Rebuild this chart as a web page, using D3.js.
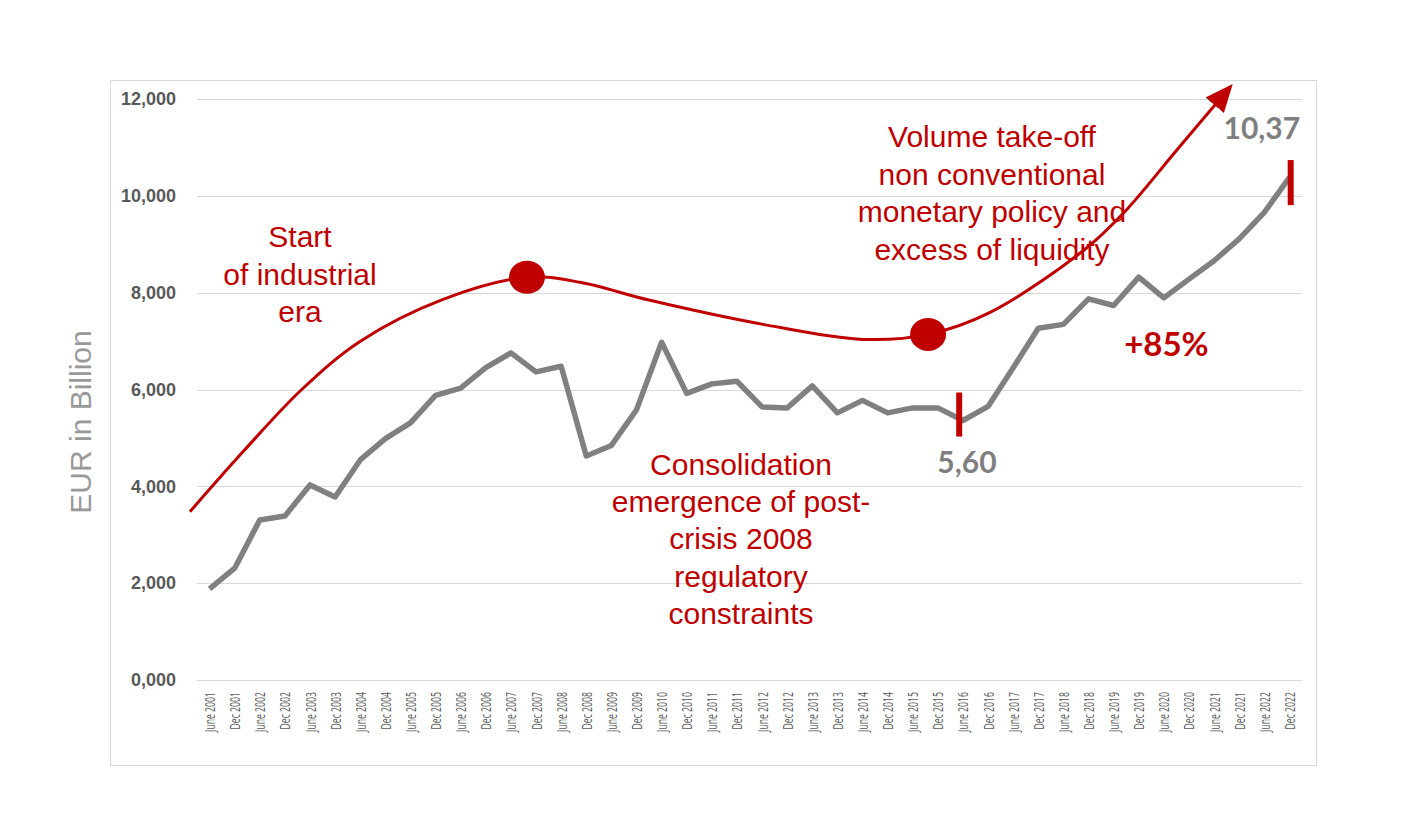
<!DOCTYPE html>
<html>
<head>
<meta charset="utf-8">
<script src="https://cdn.jsdelivr.net/npm/d3@7"></script>
<style>
  html, body { margin: 0; padding: 0; background: #ffffff; }
  svg { display: block; }
</style>
</head>
<body>
<svg id="chart" width="1412" height="838"></svg>
<script>
// ---------------- DATA ----------------
const categories = [
  "June 2001","Dec 2001","June 2002","Dec 2002","June 2003","Dec 2003","June 2004","Dec 2004",
  "June 2005","Dec 2005","June 2006","Dec 2006","June 2007","Dec 2007","June 2008","Dec 2008",
  "June 2009","Dec 2009","June 2010","Dec 2010","June 2011","Dec 2011","June 2012","Dec 2012",
  "June 2013","Dec 2013","June 2014","Dec 2014","June 2015","Dec 2015","June 2016","Dec 2016",
  "June 2017","Dec 2017","June 2018","Dec 2018","June 2019","Dec 2019","June 2020","Dec 2020",
  "June 2021","Dec 2021","June 2022","Dec 2022"
];
const values = [
  1880, 2310, 3306, 3388, 4029, 3781, 4545, 4985,
  5310, 5880, 6030, 6450, 6756, 6364, 6480, 4628,
  4845, 5579, 6975, 5920, 6116, 6170, 5640, 5620,
  6074, 5517, 5775, 5517, 5620, 5620, 5360, 5650,
  6450, 7265, 7345, 7872, 7735, 8320, 7893, 8280,
  8660, 9110, 9660, 10380
];
const yTickValues = [0, 2000, 4000, 6000, 8000, 10000, 12000];
const yTickLabels = ["0,000", "2,000", "4,000", "6,000", "8,000", "10,000", "12,000"];
const yTitle = "EUR in Billion";

// Annotation trend curve (category index, value)
const trendIdx = [-0.78, 1.41, 3.67, 5.99, 9.30, 12.64, 14.75, 17.54, 22.04, 26.02, 28.61, 31.08, 34.86, 36.46, 38.45, 40.64];
const trendVal = [3476, 4759, 6000, 6993, 7862, 8318, 8214, 7842, 7345, 7035, 7138, 7593, 8897, 9683, 10904, 12249];
const dotIdx = [12.64, 28.61];
const dotVal = [8318, 7138];

// Red marker bars (category index, value range)
const barIdx = [29.85, 43.05];
const barLow = [5028, 9808];
const barHigh = [5938, 10739];

// Value callouts
const calloutText = ["5,60", "10,37"];
const calloutIdx = [30.16, 41.9];
const calloutVal = [4283, 11173];
const growthText = "+85%";
const growthIdx = 38.1;
const growthVal = 6683;

const noteStart = ["Start", "of industrial", "era"];
const noteConsolidation = ["Consolidation", "emergence of post-", "crisis 2008", "regulatory", "constraints"];
const noteTakeoff = ["Volume take-off", "non conventional", "monetary policy and", "excess of liquidity"];

// ---------------- CHART ----------------
const RED = "#c00000";
const svg = d3.select("#chart");

const plotLeft = 197, plotRight = 1302, plotTop = 99, plotBottom = 680;

const x = d3.scaleBand().domain(categories).range([plotLeft, plotRight]).padding(0);
const bw = x.bandwidth();
const xi = d3.scaleLinear().domain([0, categories.length - 1])
  .range([x(categories[0]) + bw / 2, x(categories[categories.length - 1]) + bw / 2]);
const y = d3.scaleLinear().domain([0, 12000]).range([plotBottom, plotTop]);

// Frame
svg.append("rect")
  .attr("x", 110.5).attr("y", 80.5).attr("width", 1206).attr("height", 685)
  .attr("fill", "none").attr("stroke", "#d9d9d9").attr("stroke-width", 1);

// Gridlines
svg.append("g").selectAll("line").data(yTickValues).join("line")
  .attr("x1", plotLeft).attr("x2", plotRight)
  .attr("y1", d => Math.round(y(d)) + 0.5).attr("y2", d => Math.round(y(d)) + 0.5)
  .attr("stroke", "#d9d9d9").attr("stroke-width", 1);

// Y axis
const yAxis = d3.axisLeft(y).tickValues(yTickValues).tickSize(0).tickPadding(21)
  .tickFormat((d, i) => yTickLabels[i]);
const gy = svg.append("g").attr("transform", `translate(${plotLeft},0)`).call(yAxis);
gy.select(".domain").remove();
gy.selectAll("text")
  .attr("font-family", "'Liberation Sans', Arial, sans-serif")
  .attr("font-weight", "bold").attr("font-size", 18).attr("fill", "#595959");

// Y title
svg.append("text")
  .attr("transform", "translate(80,422) rotate(-90)")
  .attr("text-anchor", "middle").attr("dominant-baseline", "central")
  .attr("font-family", "'Liberation Sans', Arial, sans-serif")
  .attr("font-size", 30).attr("fill", "#999999")
  .text(yTitle);

// X axis
const xAxis = d3.axisBottom(x).tickSize(0).tickPadding(0);
const gx = svg.append("g").attr("transform", `translate(0,${plotBottom})`).call(xAxis);
gx.select(".domain").remove();
gx.selectAll(".tick text")
  .attr("y", null).attr("dy", null)
  .attr("transform", "translate(0,12) rotate(-90) scale(0.58,1)")
  .attr("text-anchor", "end").attr("dominant-baseline", "central")
  .attr("font-family", "'Open Sans', sans-serif")
  .attr("font-size", 15).attr("fill", "#595959");

// Gray data line
const line = d3.line().x((d, i) => x(categories[i]) + bw / 2).y(d => y(d));
svg.append("path").datum(values)
  .attr("d", line)
  .attr("fill", "none").attr("stroke", "#808080").attr("stroke-width", 5.5)
  .attr("stroke-linejoin", "round");

// Arrow marker
const defs = svg.append("defs");
defs.append("marker")
  .attr("id", "arrow").attr("markerUnits", "userSpaceOnUse")
  .attr("viewBox", "0 0 28 24").attr("markerWidth", 28).attr("markerHeight", 24)
  .attr("refX", 24).attr("refY", 12).attr("orient", "auto")
  .append("path").attr("d", "M0,0 L28,12 L0,24 Z").attr("fill", RED);

// Trend curve
const trendPts = trendIdx.map((d, i) => [xi(d), y(trendVal[i])]);
svg.append("path").datum(trendPts)
  .attr("d", d3.line().curve(d3.curveCatmullRom.alpha(0.5)))
  .attr("fill", "none").attr("stroke", RED).attr("stroke-width", 3)
  .attr("marker-end", "url(#arrow)");

// Dots
svg.append("g").selectAll("ellipse").data(dotIdx).join("ellipse")
  .attr("cx", d => xi(d)).attr("cy", (d, i) => y(dotVal[i]))
  .attr("rx", 18).attr("ry", 16.5).attr("fill", RED);

// Red marker bars
svg.append("g").selectAll("line").data(barIdx).join("line")
  .attr("x1", d => xi(d)).attr("x2", d => xi(d))
  .attr("y1", (d, i) => y(barHigh[i])).attr("y2", (d, i) => y(barLow[i]))
  .attr("stroke", RED).attr("stroke-width", 6);

// Callouts
svg.append("g").selectAll("text").data(calloutText).join("text")
  .attr("x", (d, i) => xi(calloutIdx[i])).attr("y", (d, i) => y(calloutVal[i]))
  .attr("text-anchor", "middle")
  .attr("font-family", "Lato, 'Open Sans', sans-serif").attr("font-weight", "bold")
  .attr("font-size", 30).attr("fill", "#7f7f7f")
  .text(d => d);

svg.append("text")
  .attr("x", xi(growthIdx)).attr("y", y(growthVal))
  .attr("text-anchor", "middle")
  .attr("font-family", "Lato, 'Open Sans', sans-serif").attr("font-weight", "bold")
  .attr("font-size", 33).attr("fill", RED)
  .text(growthText);

// Notes
function note(lines, cx, firstBaseline, spacing) {
  svg.append("g").selectAll("text").data(lines).join("text")
    .attr("x", cx).attr("y", (d, i) => firstBaseline + i * spacing)
    .attr("text-anchor", "middle")
    .attr("font-family", "'Liberation Sans', Helvetica, Arial, sans-serif")
    .attr("font-size", 30).attr("fill", RED)
    .text(d => d);
}
note(noteStart, 300, 247, 37.5);
note(noteConsolidation, 741, 475, 37.2);
note(noteTakeoff, 992, 147, 37.6);
</script>
</body>
</html>
